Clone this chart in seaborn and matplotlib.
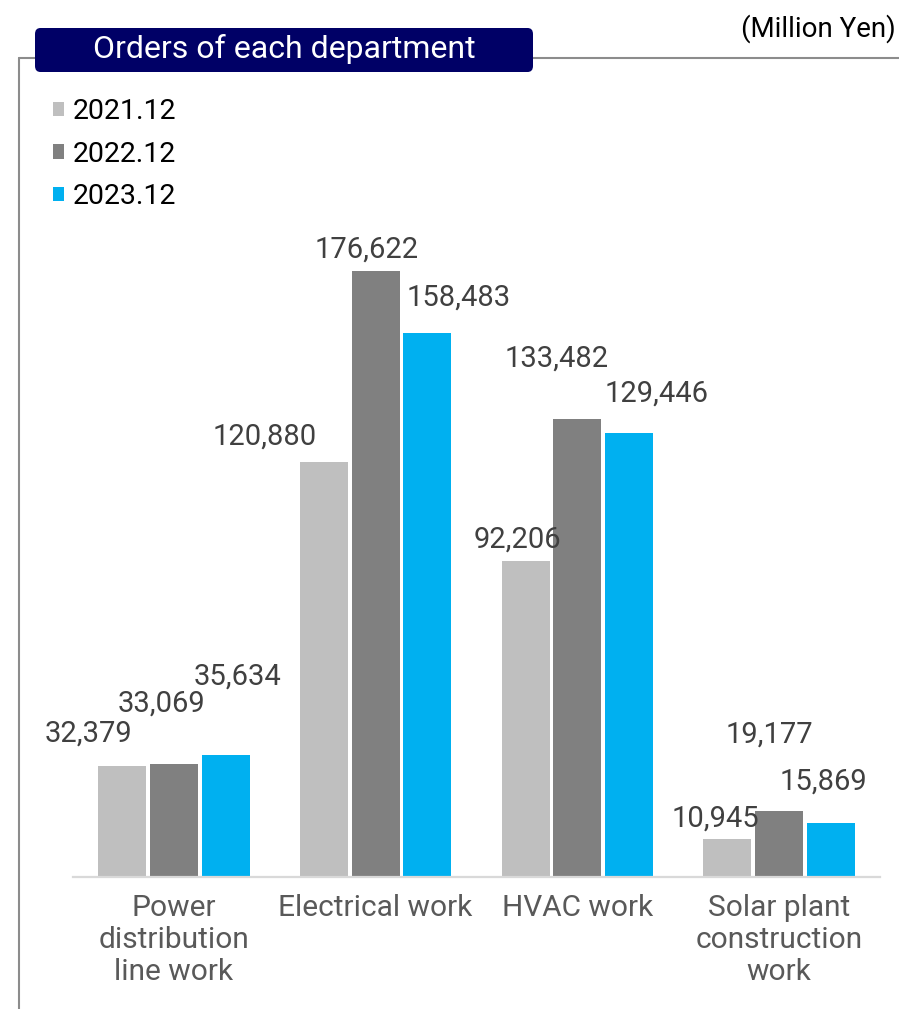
import matplotlib
matplotlib.use("Agg")
import matplotlib.pyplot as plt
from matplotlib.lines import Line2D
from matplotlib.patches import FancyBboxPatch
import seaborn as sns
import pandas as pd

# Orders by department (million yen)
departments = ["Power\ndistribution\nline work", "Electrical work", "HVAC work",
               "Solar plant\nconstruction\nwork"]
periods = ["2021.12", "2022.12", "2023.12"]
orders_2021 = [32379, 120880, 92206, 10945]
orders_2022 = [33069, 176622, 133482, 19177]
orders_2023 = [35634, 158483, 129446, 15869]

palette = ["#BFBFBF", "#808080", "#00B0F0"]

df = pd.DataFrame({
    "department": departments * 3,
    "period": [p for p in periods for _ in departments],
    "orders": orders_2021 + orders_2022 + orders_2023,
})

sns.set_theme(style="white")
plt.rcParams["font.family"] = ["Roboto", "DejaVu Sans"]

W, H = 899, 1009
fig = plt.figure(figsize=(W / 100, H / 100), dpi=100)


def fx(px):
    return px / W


def fy(py):
    return 1 - py / H


ax = fig.add_axes([fx(73), fy(877), fx(880) - fx(73), fy(200) - fy(877)])
sns.barplot(data=df, x="department", y="orders", hue="period", hue_order=periods,
            order=departments, palette=palette, width=0.77, gap=0.07,
            saturation=1, edgecolor="none", ax=ax, legend=True)

ax.set_ylim(0, 197400)
ax.set_xlim(-0.5, 3.5)
ax.set_xlabel("")
ax.set_ylabel("")
ax.set_yticks([])
for side in ["top", "right", "left"]:
    ax.spines[side].set_visible(False)
ax.spines["bottom"].set_color("#D9D9D9")
ax.spines["bottom"].set_linewidth(1.6)
ax.tick_params(axis="x", length=0, pad=12, labelsize=21.5, labelcolor="#595959")
for t in ax.get_xticklabels():
    t.set_linespacing(1.18)
    t.set_verticalalignment("top")

# Value labels, nudged individually around each bar top (pixels)
label_offsets = [
    [(-34, 24), (-59, 18), (-8, 13), (-12, 13)],
    [(-12, 52), (-9, 14), (-21, 53), (-10, 69)],
    [(12, 70), (31, 28), (27, 31), (-8, 33)],
]
for i, cont in enumerate(ax.containers):
    for j, bar in enumerate(cont):
        v = bar.get_height()
        ax.annotate(f"{v:,.0f}", xy=(bar.get_x() + bar.get_width() / 2, v),
                    xytext=label_offsets[i][j], textcoords="offset pixels",
                    ha="center", va="baseline", fontsize=21, color="#404040")

leg = ax.legend(loc="upper left", bbox_to_anchor=(fx(53), fy(98)),
                bbox_transform=fig.transFigure, frameon=False,
                fontsize=20.5, handlelength=0.4, handleheight=0.4,
                handletextpad=0.3, labelspacing=0.55, borderpad=0,
                borderaxespad=0)
for txt in leg.get_texts():
    txt.set_color("#000000")

# Panel frame
frame_col = "#8C8C8C"
fig.add_artist(Line2D([fx(19), fx(19)], [fy(58), fy(1009)], color=frame_col, lw=1.5))
fig.add_artist(Line2D([fx(19), fx(899)], [fy(58), fy(58)], color=frame_col, lw=1.5))

# Title tab
box = FancyBboxPatch((fx(35), fy(72)), fx(533) - fx(35), fy(28) - fy(72),
                     boxstyle="round,pad=0,rounding_size=0.006",
                     transform=fig.transFigure, facecolor="#000066",
                     edgecolor="none", zorder=5)
fig.add_artist(box)
fig.text(fx(284), fy(49), "Orders of each department", color="white",
         fontsize=23, ha="center", va="center", zorder=6)
fig.text(fx(896), fy(29), "(Million Yen)", color="#000000", fontsize=20,
         ha="right", va="center")

fig.savefig("out.png", dpi=100)
